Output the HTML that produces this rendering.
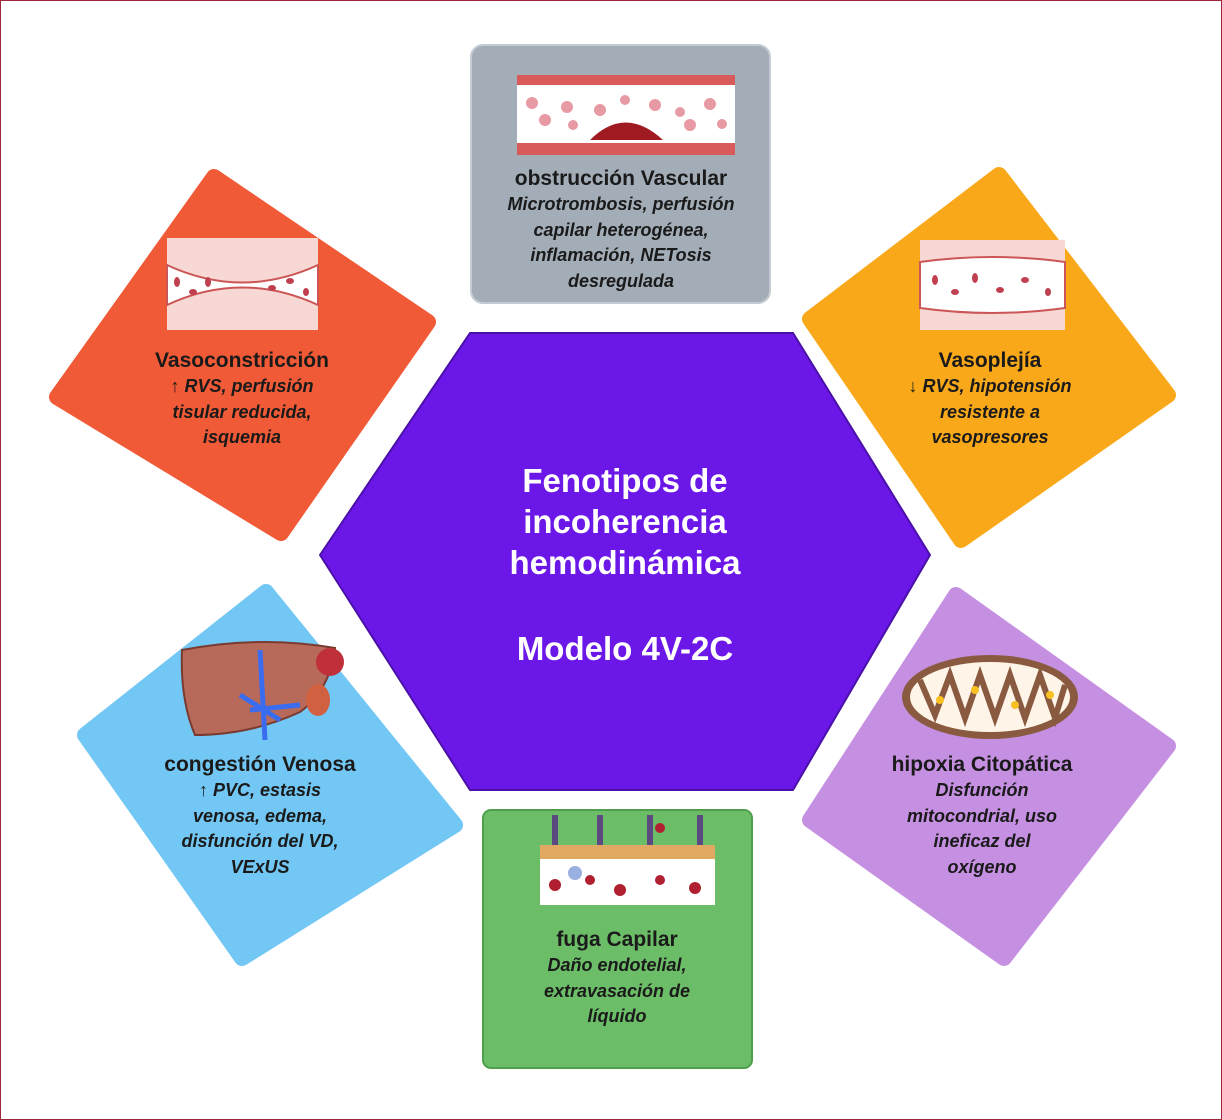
<!DOCTYPE html>
<html><head><meta charset="utf-8"><style>
html,body{margin:0;padding:0}
body{width:1222px;height:1120px;position:relative;background:#fff;font-family:"Liberation Sans",sans-serif;overflow:hidden}
.frame{position:absolute;left:0;top:0;width:1220px;height:1118px;border:1px solid #a0243a}
svg{position:absolute;left:0;top:0}
.t{position:absolute;text-align:center;color:#1a1a1a;transform:translateX(-50%);white-space:nowrap}
.t b{display:block;font-size:21px;line-height:26px;font-weight:bold}
.t i{display:block;font-size:18px;line-height:25.5px;font-weight:bold;font-style:italic}
.c{position:absolute;left:625px;transform:translateX(-50%);color:#fff;font-weight:bold;font-size:33px;text-align:center;line-height:41px;white-space:nowrap}
</style></head><body>
<div class="frame"></div>
<svg width="1222" height="1120" viewBox="0 0 1222 1120">
<g stroke-linejoin="round" stroke-width="16">
<polygon points="214,177 428,322 281,533 57,397" fill="#f05a36" stroke="#f05a36"/>
<polygon points="999,175 1168,395 961,540 810,319" fill="#f9a81a" stroke="#f9a81a"/>
<polygon points="266,592 455,825 242,958 85,735" fill="#72c7f4" stroke="#72c7f4"/>
<polygon points="956,595 1168,746 1004,958 810,820" fill="#c690e2" stroke="#c690e2"/>
</g>
<rect x="471" y="45" width="299" height="258" rx="12" fill="#a3adb7" stroke="#c4cbd2" stroke-width="2"/>
<rect x="483" y="810" width="269" height="258" rx="8" fill="#6cbd68" stroke="#4f9e4c" stroke-width="2"/>
<polygon points="320,555 470,333 793,333 930,555 793,790 470,790" fill="#6b17e8" stroke="#4a10a8" stroke-width="2" stroke-linejoin="round"/>
<rect x="517" y="75" width="218" height="80" fill="#fff"/>
<rect x="517" y="75" width="218" height="10" fill="#d85a5a"/>
<rect x="517" y="143" width="218" height="12" fill="#d85a5a"/>
<path d="M590,140 Q625,105 663,140 Z" fill="#a01a22"/>
<g fill="#e89aa4"><circle cx="532" cy="103" r="6"/><circle cx="545" cy="120" r="6"/><circle cx="567" cy="107" r="6"/><circle cx="573" cy="125" r="5"/><circle cx="600" cy="110" r="6"/><circle cx="625" cy="100" r="5"/><circle cx="655" cy="105" r="6"/><circle cx="680" cy="112" r="5"/><circle cx="690" cy="125" r="6"/><circle cx="710" cy="104" r="6"/><circle cx="722" cy="124" r="5"/></g>
<rect x="167" y="238" width="151" height="92" fill="#f7d8d4"/>
<path d="M167,265 Q242,300 318,265 L318,305 Q242,270 167,305Z" fill="#fff" stroke="#c55" stroke-width="2"/>
<g fill="#c04050"><ellipse cx="177" cy="282" rx="3" ry="5"/><ellipse cx="193" cy="292" rx="4" ry="3"/><ellipse cx="208" cy="282" rx="3" ry="5"/><ellipse cx="272" cy="288" rx="4" ry="3"/><ellipse cx="290" cy="281" rx="4" ry="3"/><ellipse cx="306" cy="292" rx="3" ry="4"/></g>
<rect x="920" y="240" width="145" height="90" fill="#f7d8d4"/>
<path d="M920,262 Q992,252 1065,262 L1065,308 Q992,318 920,308Z" fill="#fff" stroke="#c55" stroke-width="2"/>
<g fill="#c04050"><ellipse cx="935" cy="280" rx="3" ry="5"/><ellipse cx="955" cy="292" rx="4" ry="3"/><ellipse cx="975" cy="278" rx="3" ry="5"/><ellipse cx="1000" cy="290" rx="4" ry="3"/><ellipse cx="1025" cy="280" rx="4" ry="3"/><ellipse cx="1048" cy="292" rx="3" ry="4"/></g>
<path d="M182,650 Q260,635 335,648 Q330,690 300,712 Q250,735 195,735 Q180,700 182,650Z" fill="#b86a5a" stroke="#7a3a30" stroke-width="2"/>
<circle cx="330" cy="662" r="14" fill="#c0303a"/>
<ellipse cx="318" cy="700" rx="12" ry="16" fill="#d06040"/>
<path d="M260,650 L265,740 M250,710 L300,705 M240,695 L280,720" stroke="#3a6cf0" stroke-width="5" fill="none"/>
<ellipse cx="990" cy="697" rx="88" ry="42" fill="#8a5a40"/>
<ellipse cx="990" cy="697" rx="80" ry="35" fill="#fff4e8"/>
<path d="M920,680 L935,715 L950,675 L965,718 L980,675 L995,718 L1010,675 L1025,718 L1040,675 L1055,718 L1065,685" stroke="#8a5a40" stroke-width="6" fill="none"/>
<g fill="#f8c020"><circle cx="940" cy="700" r="4"/><circle cx="975" cy="690" r="4"/><circle cx="1015" cy="705" r="4"/><circle cx="1050" cy="695" r="4"/></g>
<rect x="540" y="855" width="175" height="50" fill="#fff"/>
<rect x="540" y="845" width="175" height="14" fill="#e0a860"/>
<path d="M555,815 L555,845 M600,815 L600,845 M650,815 L650,845 M700,815 L700,845" stroke="#5a4a80" stroke-width="6"/>
<g fill="#b02030"><circle cx="555" cy="885" r="6"/><circle cx="590" cy="880" r="5"/><circle cx="620" cy="890" r="6"/><circle cx="660" cy="880" r="5"/><circle cx="695" cy="888" r="6"/><circle cx="660" cy="828" r="5"/></g>
<circle cx="575" cy="873" r="7" fill="#9ab0e0"/>
</svg>
<div class="t" style="left:621px;top:166px"><b>obstrucción Vascular</b><i>Microtrombosis, perfusión</i><i>capilar heterogénea,</i><i>inflamación, NETosis</i><i>desregulada</i></div>
<div class="t" style="left:242px;top:348px"><b>Vasoconstricción</b><i>↑ RVS, perfusión</i><i>tisular reducida,</i><i>isquemia</i></div>
<div class="t" style="left:990px;top:348px"><b>Vasoplejía</b><i>↓ RVS, hipotensión</i><i>resistente a</i><i>vasopresores</i></div>
<div class="t" style="left:260px;top:752px"><b>congestión Venosa</b><i>↑ PVC, estasis</i><i>venosa, edema,</i><i>disfunción del VD,</i><i>VExUS</i></div>
<div class="t" style="left:982px;top:752px"><b>hipoxia Citopática</b><i>Disfunción</i><i>mitocondrial, uso</i><i>ineficaz del</i><i>oxígeno</i></div>
<div class="t" style="left:617px;top:927px"><b>fuga Capilar</b><i>Daño endotelial,</i><i>extravasación de</i><i>líquido</i></div>
<div class="c" style="top:460px">Fenotipos de<br>incoherencia<br>hemodinámica</div>
<div class="c" style="top:628px">Modelo 4V-2C</div>
</body></html>
